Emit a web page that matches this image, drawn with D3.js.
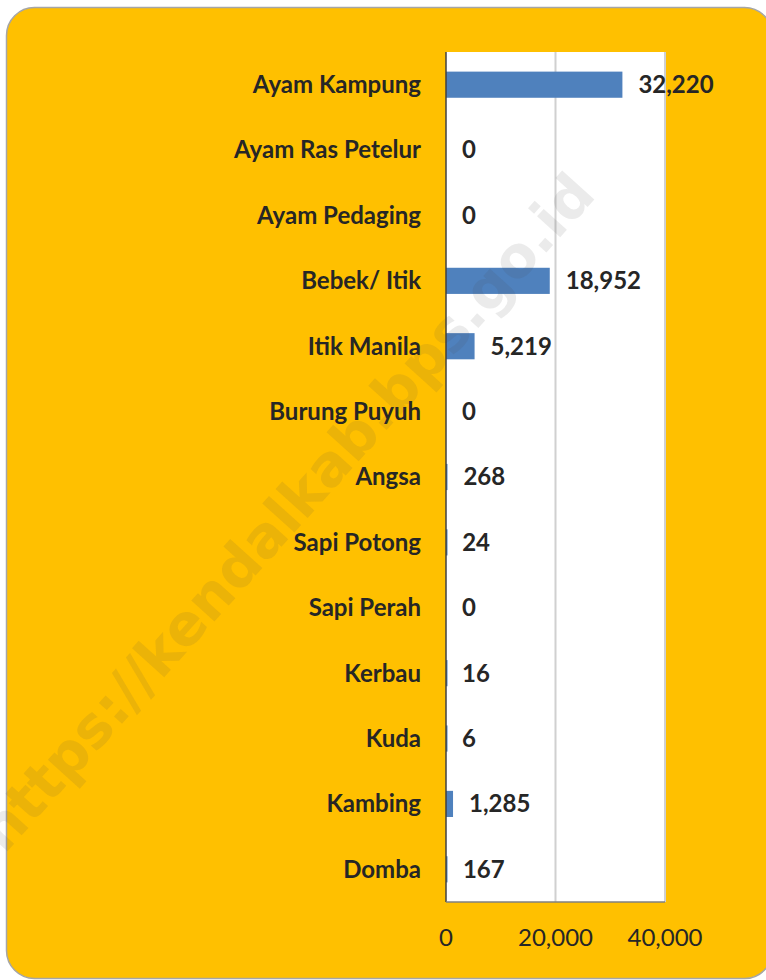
<!DOCTYPE html>
<html>
<head>
<meta charset="utf-8">
<script src="https://cdn.jsdelivr.net/npm/d3@7"></script>
<style>
  html, body { margin: 0; padding: 0; background: #fff; }
  svg { display: block; }
</style>
</head>
<body>
<script>
// data
const categories = ["Ayam Kampung", "Ayam Ras Petelur", "Ayam Pedaging", "Bebek/ Itik",
  "Itik Manila", "Burung Puyuh", "Angsa", "Sapi Potong", "Sapi Perah", "Kerbau",
  "Kuda", "Kambing", "Domba"];
const values = [32220, 0, 0, 18952, 5219, 0, 268, 24, 0, 16, 6, 1285, 167];
const tickValues = [0, 20000, 40000];
const watermark = "https://kendalkab.bps.go.id";

const data = categories.map((c, i) => ({ name: c, value: values[i] }));

const svgWidth = 766, svgHeight = 980;
const plot = { left: 446, right: 665, top: 52, bottom: 902 };
const font = "Lato, 'Open Sans', sans-serif";

const svg = d3.select("body").append("svg")
  .attr("width", svgWidth)
  .attr("height", svgHeight);

// card background
svg.append("rect")
  .attr("x", 6.5).attr("y", 7.5)
  .attr("width", 766).attr("height", 971)
  .attr("rx", 28)
  .attr("fill", "#FFC000")
  .attr("stroke", "#a6a6a6")
  .attr("stroke-width", 1.5);

const xScale = d3.scaleLinear()
  .domain([0, 40000])
  .range([plot.left, plot.right]);

const yScale = d3.scaleBand()
  .domain(categories)
  .range([plot.top, plot.bottom])
  .paddingInner(0.6)
  .paddingOuter(0.3);

// plot area
svg.append("rect")
  .attr("x", plot.left).attr("y", plot.top)
  .attr("width", plot.right - plot.left)
  .attr("height", plot.bottom - plot.top)
  .attr("fill", "#fff");

// gridlines
svg.append("g")
  .selectAll("line")
  .data(tickValues.slice(1))
  .enter().append("line")
  .attr("x1", d => xScale(d)).attr("x2", d => xScale(d))
  .attr("y1", plot.top).attr("y2", plot.bottom)
  .attr("stroke", "#d0d0d0")
  .attr("stroke-width", 2);

// bars
svg.append("g")
  .selectAll("rect")
  .data(data)
  .enter().append("rect")
  .attr("x", xScale(0))
  .attr("y", d => yScale(d.name))
  .attr("width", d => Math.max(xScale(d.value) - xScale(0), d.value > 0 ? 1.5 : 0))
  .attr("height", yScale.bandwidth())
  .attr("fill", "#4F81BD");

// axes lines
svg.append("line")
  .attr("x1", plot.left).attr("x2", plot.left)
  .attr("y1", plot.top).attr("y2", plot.bottom)
  .attr("stroke", "#404040").attr("stroke-width", 1.5);
svg.append("line")
  .attr("x1", plot.left).attr("x2", plot.right)
  .attr("y1", plot.bottom).attr("y2", plot.bottom)
  .attr("stroke", "#808080").attr("stroke-width", 1.5);

// category labels
svg.append("g")
  .selectAll("text")
  .data(data)
  .enter().append("text")
  .attr("x", plot.left - 25)
  .attr("y", d => yScale(d.name) + yScale.bandwidth() / 2)
  .attr("dy", "0.35em")
  .attr("text-anchor", "end")
  .attr("font-family", font)
  .attr("font-weight", "bold")
  .attr("font-size", 24)
  .attr("fill", "#262626")
  .text(d => d.name);

// value labels
svg.append("g")
  .selectAll("text")
  .data(data)
  .enter().append("text")
  .attr("x", d => xScale(d.value) + 16)
  .attr("y", d => yScale(d.name) + yScale.bandwidth() / 2)
  .attr("dy", "0.35em")
  .attr("font-family", font)
  .attr("font-weight", "bold")
  .attr("font-size", 24)
  .attr("fill", "#262626")
  .text(d => d3.format(",")(d.value));

// x tick labels
svg.append("g")
  .selectAll("text")
  .data(tickValues)
  .enter().append("text")
  .attr("x", d => xScale(d))
  .attr("y", 938)
  .attr("dy", "0.35em")
  .attr("text-anchor", "middle")
  .attr("font-family", font)
  .attr("font-size", 24)
  .attr("fill", "#262626")
  .text(d => d3.format(",")(d));

// watermark
svg.append("text")
  .attr("transform", "translate(286,512) rotate(-48)")
  .attr("text-anchor", "middle")
  .attr("dy", "0.35em")
  .attr("font-family", "'DejaVu Sans', sans-serif")
  .attr("font-weight", "bold")
  .attr("font-size", 57)
  .attr("fill", "rgba(70,70,70,0.11)")
  .text(watermark);
</script>
</body>
</html>
